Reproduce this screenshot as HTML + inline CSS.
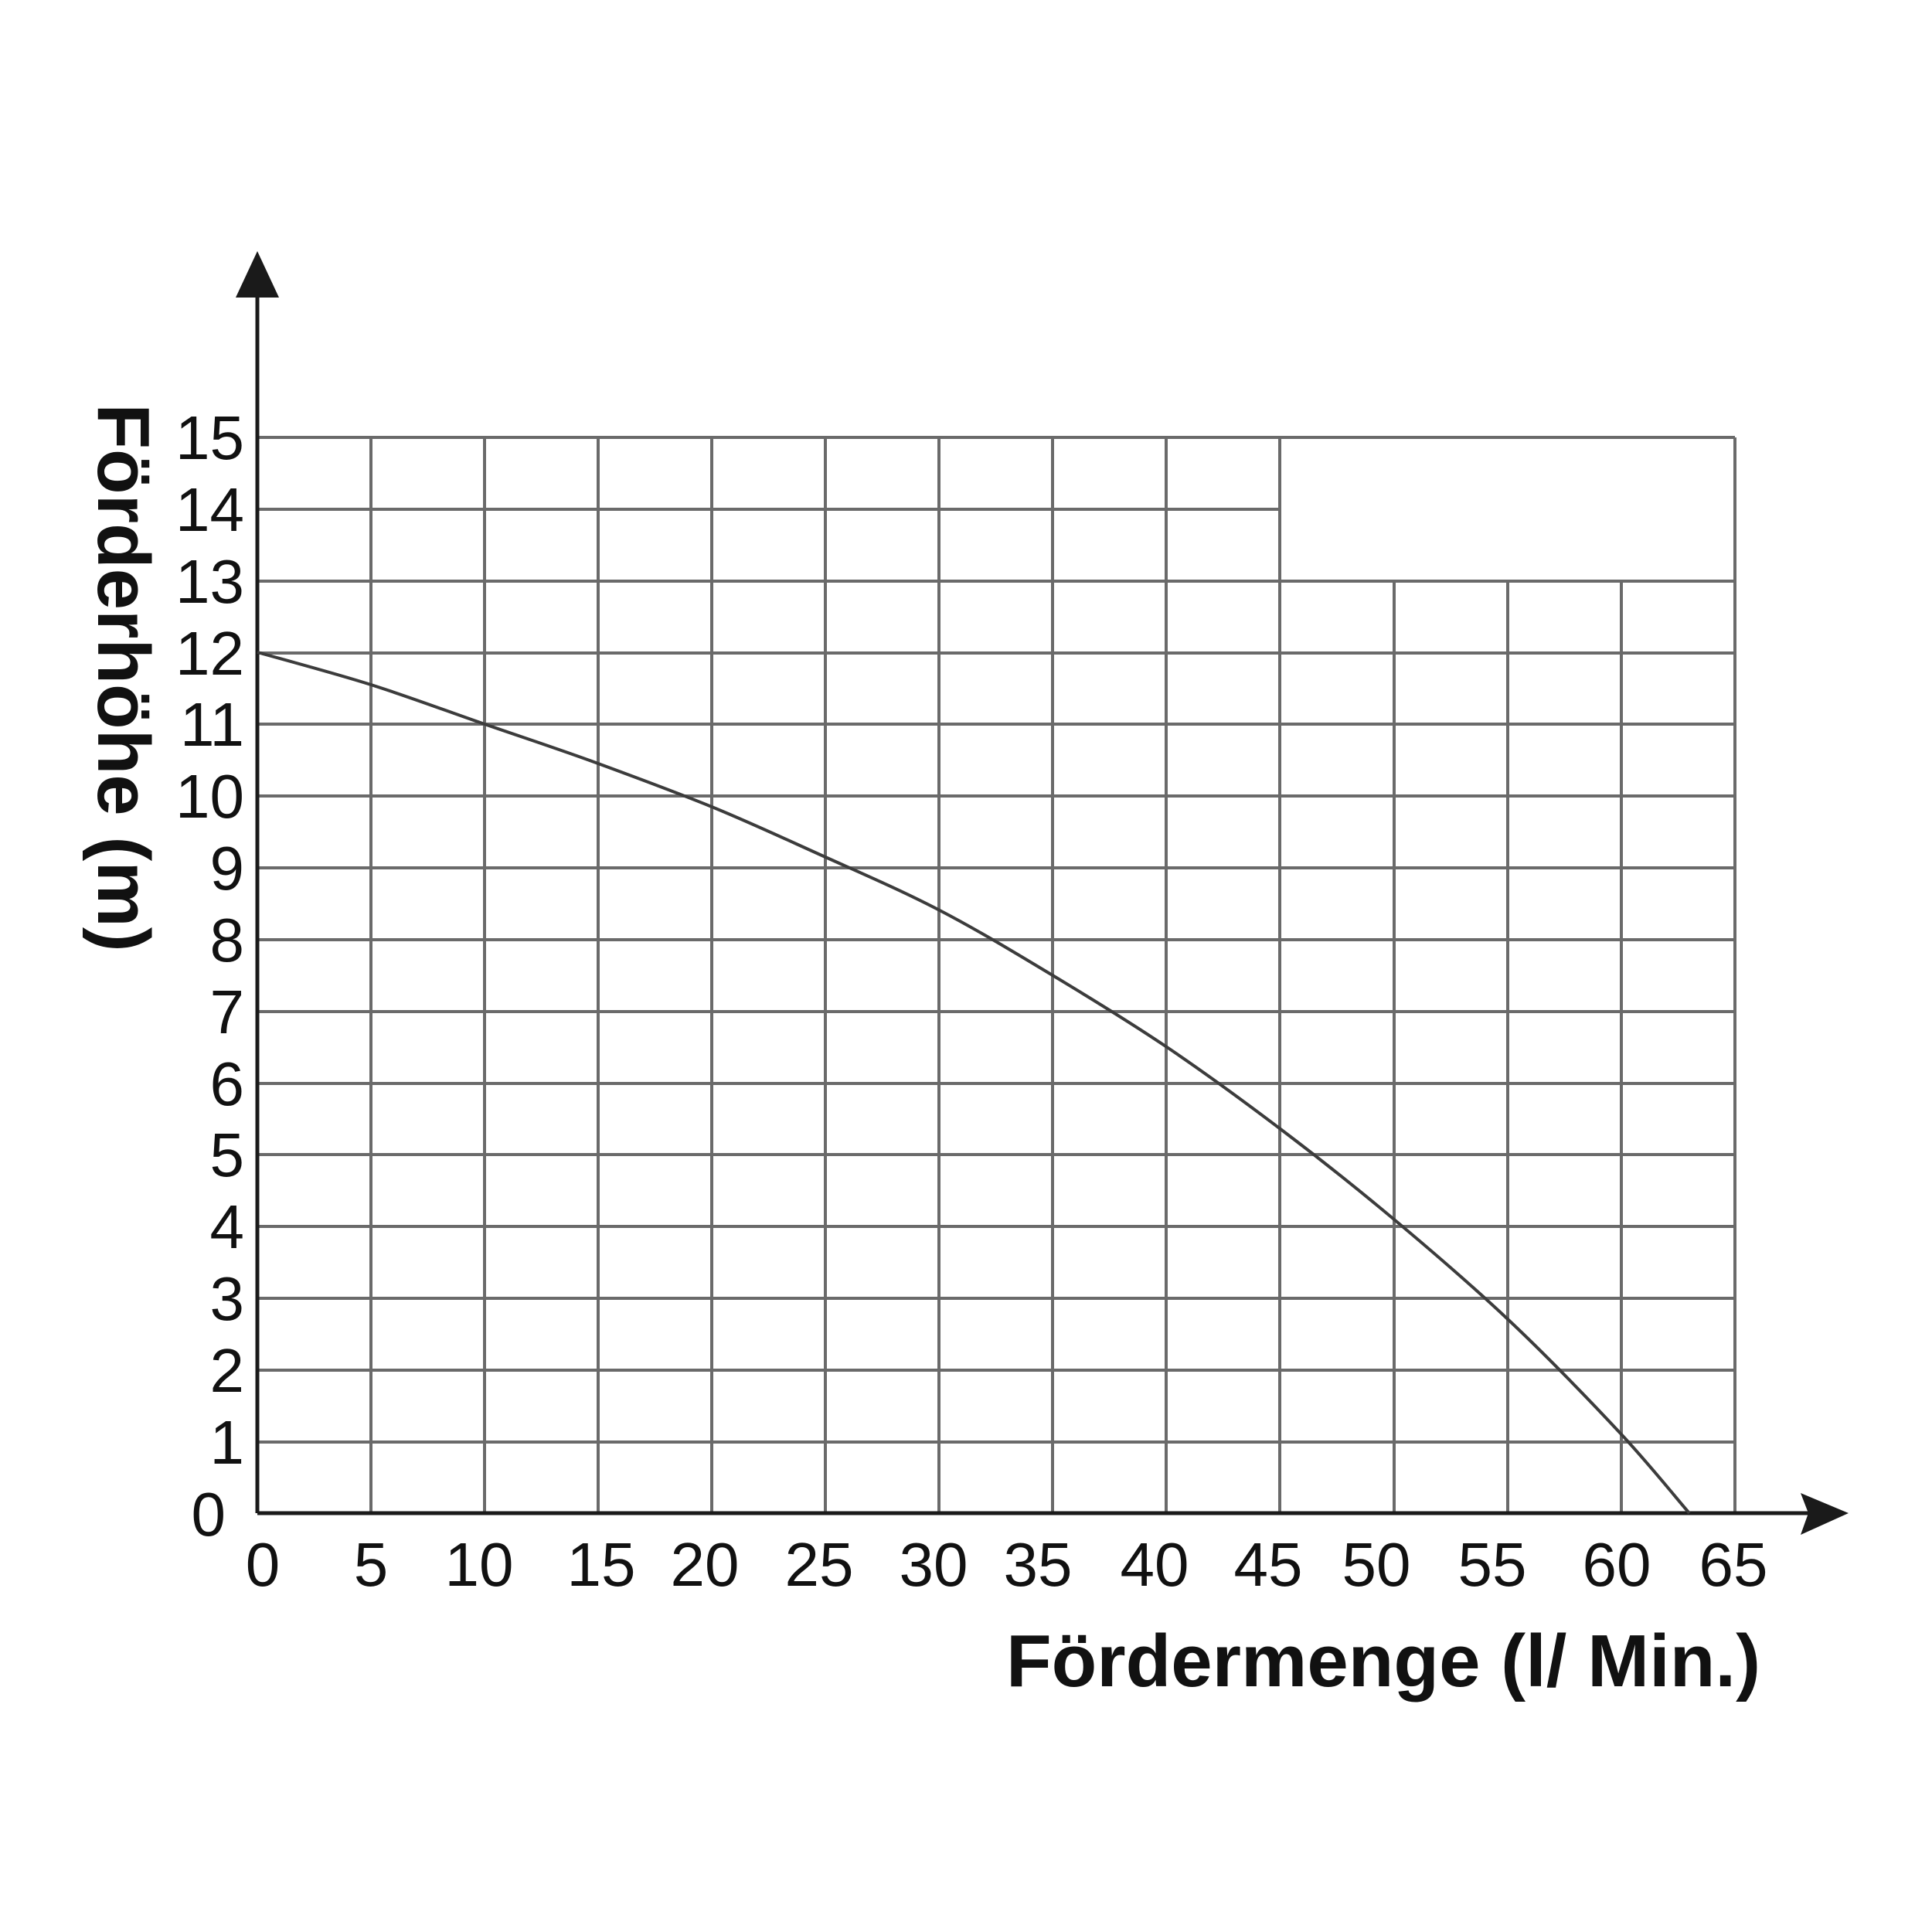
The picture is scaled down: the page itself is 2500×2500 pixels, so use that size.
<!DOCTYPE html>
<html><head><style>body{margin:0;background:#fff}svg{display:block}</style></head>
<body>
<svg width="2500" height="2500" xmlns="http://www.w3.org/2000/svg" font-family="Liberation Sans, Arial, sans-serif">
<rect width="2500" height="2500" fill="#fff"/>
<g stroke="#6a6a6a" stroke-width="4" fill="none">
<line x1="333" y1="566" x2="2245" y2="566"/>
<line x1="333" y1="659" x2="1656" y2="659"/>
<line x1="333" y1="752" x2="2245" y2="752"/>
<line x1="333" y1="845" x2="2245" y2="845"/>
<line x1="333" y1="937" x2="2245" y2="937"/>
<line x1="333" y1="1030" x2="2245" y2="1030"/>
<line x1="333" y1="1123" x2="2245" y2="1123"/>
<line x1="333" y1="1216" x2="2245" y2="1216"/>
<line x1="333" y1="1309" x2="2245" y2="1309"/>
<line x1="333" y1="1402" x2="2245" y2="1402"/>
<line x1="333" y1="1494" x2="2245" y2="1494"/>
<line x1="333" y1="1587" x2="2245" y2="1587"/>
<line x1="333" y1="1680" x2="2245" y2="1680"/>
<line x1="333" y1="1773" x2="2245" y2="1773"/>
<line x1="333" y1="1866" x2="2245" y2="1866"/>
<line x1="480" y1="566" x2="480" y2="1958"/>
<line x1="627" y1="566" x2="627" y2="1958"/>
<line x1="774" y1="566" x2="774" y2="1958"/>
<line x1="921" y1="566" x2="921" y2="1958"/>
<line x1="1068" y1="566" x2="1068" y2="1958"/>
<line x1="1215" y1="566" x2="1215" y2="1958"/>
<line x1="1362" y1="566" x2="1362" y2="1958"/>
<line x1="1509" y1="566" x2="1509" y2="1958"/>
<line x1="1656" y1="566" x2="1656" y2="1958"/>
<line x1="1804" y1="752" x2="1804" y2="1958"/>
<line x1="1951" y1="752" x2="1951" y2="1958"/>
<line x1="2098" y1="752" x2="2098" y2="1958"/>
<line x1="2245" y1="566" x2="2245" y2="1958"/>
</g>
<g stroke="#1a1a1a" stroke-width="5">
<line x1="333" y1="1958" x2="333" y2="370"/>
<line x1="333" y1="1958" x2="2340" y2="1958"/>
</g>
<polygon points="333,325 305,385 361,385" fill="#1a1a1a"/>
<polygon points="2392,1958 2330,1932 2340,1958 2330,1986" fill="#1a1a1a"/>
<path d="M333,844 C357.5,851 431,870.5 480,886 C529,901.5 578,920 627,937 C676,954 725,970 774,988 C823,1006 872,1024 921,1044 C970,1064 1019,1087 1068,1109 C1117,1131 1167,1152.5 1216,1178 C1265,1203.5 1313,1232.5 1362,1262 C1411,1291.5 1461,1322 1510,1355 C1559,1388 1608,1424 1657,1461 C1706,1498 1755,1537 1804,1578 C1853,1619 1902,1661 1951,1707 C2000,1753 2059,1814 2098,1856 C2137,1898 2171,1941 2186,1958" fill="none" stroke="#3c3c3c" stroke-width="4"/>
<g font-size="80" text-anchor="end" fill="#111">
<text x="316" y="594">15</text><text x="316" y="687">14</text><text x="316" y="780">13</text>
<text x="316" y="873">12</text><text x="316" y="965">11</text><text x="316" y="1058">10</text>
<text x="316" y="1151">9</text><text x="316" y="1244">8</text><text x="316" y="1337">7</text>
<text x="316" y="1430">6</text><text x="316" y="1522">5</text><text x="316" y="1615">4</text>
<text x="316" y="1708">3</text><text x="316" y="1801">2</text><text x="316" y="1894">1</text>
<text x="292" y="1987">0</text>
</g>
<g font-size="80" text-anchor="middle" fill="#111">
<text x="340" y="2052">0</text><text x="480" y="2052">5</text><text x="620" y="2052">10</text>
<text x="778" y="2052">15</text><text x="912" y="2052">20</text><text x="1060" y="2052">25</text>
<text x="1208" y="2052">30</text><text x="1343" y="2052">35</text><text x="1494" y="2052">40</text>
<text x="1641" y="2052">45</text><text x="1781" y="2052">50</text><text x="1931" y="2052">55</text>
<text x="2092" y="2052">60</text><text x="2243" y="2052">65</text>
</g>
<text x="1302" y="2182" font-size="96" font-weight="bold" fill="#111">Fördermenge (l/ Min.)</text>
<text transform="translate(127,877) rotate(90)" font-size="96" font-weight="bold" text-anchor="middle" fill="#111">Förderhöhe (m)</text>
</svg>
</body></html>
